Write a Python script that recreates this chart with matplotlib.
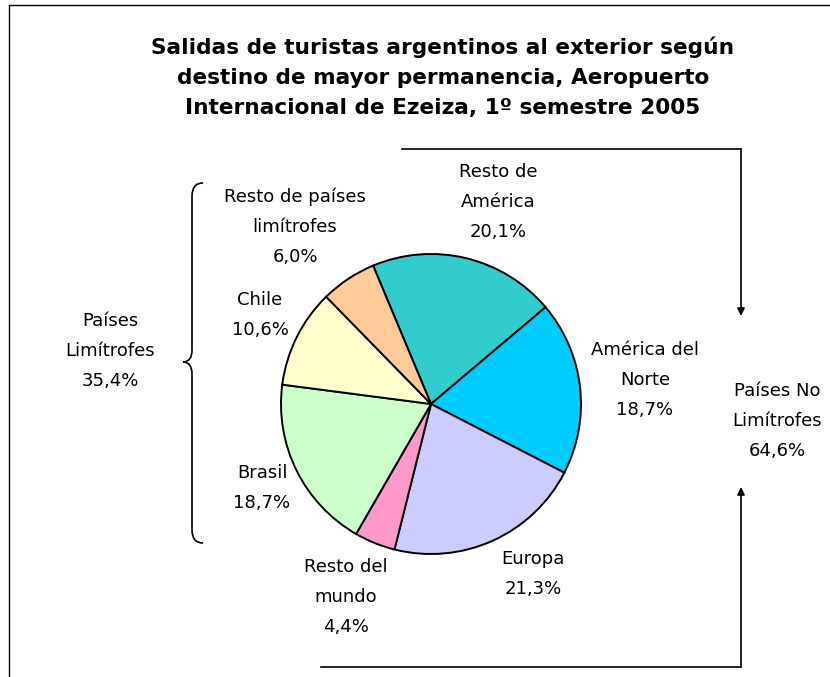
"""
Salidas de turistas argentinos al exterior, Ezeiza, 1º semestre 2005 — pie chart.
"""
import matplotlib
matplotlib.use("Agg")
import matplotlib.pyplot as plt
from matplotlib.path import Path
from matplotlib.patches import PathPatch

plt.rcParams.update({"font.family": ["DejaVu Sans"]})

W, H = 830, 677

# data (clockwise from the top, starting with "Resto de América")
destinos = ["Resto de\nAmérica", "América del\nNorte", "Europa", "Resto del\nmundo",
            "Brasil", "Chile", "Resto de países\nlimítrofes"]
porcentajes = [20.1, 18.7, 21.3, 4.4, 18.7, 10.6, 6.0]
colores = ["#33CCCC", "#00CCFF", "#CCCCFF", "#FF99CC", "#CCFFCC", "#FFFFCC", "#FFCC99"]

grupos = ["Países\nLimítrofes", "Países No\nLimítrofes"]
grupos_pct = [35.4, 64.6]

titulo = ("Salidas de turistas argentinos al exterior según\n"
          "destino de mayor permanencia, Aeropuerto\n"
          "Internacional de Ezeiza, 1º semestre 2005")

# label anchor positions in pixels (x, y from top)
label_pos = [(498, 202), (645, 380), (533, 574), (346, 597),
             (262, 488), (260, 315), (295, 227)]
grupo_pos = [(110, 351), (777, 421)]

fig = plt.figure(figsize=(W / 100, H / 100), dpi=100)

# overlay axes in pixel coordinates
ov = fig.add_axes([0, 0, 1, 1])
ov.set_xlim(0, W)
ov.set_ylim(H, 0)
ov.axis("off")

# pie axes: centre (431, 404), radius 150 px
cx, cy, r = 431, 404, 150
pie_ax = fig.add_axes([(cx - r) / W, 1 - (cy + r) / H, 2 * r / W, 2 * r / H])
pie_ax.pie(porcentajes, colors=colores, startangle=112.7, counterclock=False,
           wedgeprops=dict(edgecolor="black", linewidth=1.4))
pie_ax.set_xlim(-1, 1)
pie_ax.set_ylim(-1, 1)
pie_ax.set_aspect("equal")
pie_ax.axis("off")

# border (left and top edges of the chart area)
ov.plot([9, 9, W + 5], [H + 5, 5, 5], color="black", lw=1.0, clip_on=False)

# title
ov.text(443, 77, titulo, ha="center", va="center", fontsize=15.6, fontweight="bold",
        linespacing=1.62)

fmt = lambda v: f"{v:.1f}%".replace(".", ",")

for name, pct, (x, y) in zip(destinos, porcentajes, label_pos):
    ov.text(x, y, f"{name}\n{fmt(pct)}", ha="center", va="center", fontsize=13,
            linespacing=1.84)

for name, pct, (x, y) in zip(grupos, grupos_pct, grupo_pos):
    ov.text(x, y, f"{name}\n{fmt(pct)}", ha="center", va="center", fontsize=13,
            linespacing=1.84)

# brace for "Países Limítrofes"
verts = [(203, 183), (192, 183), (192, 196),
         (192, 350),
         (192, 362), (183, 362),
         (192, 362), (192, 374),
         (192, 530),
         (192, 543), (203, 543)]
codes = [Path.MOVETO, Path.CURVE3, Path.CURVE3,
         Path.LINETO,
         Path.CURVE3, Path.CURVE3,
         Path.CURVE3, Path.CURVE3,
         Path.LINETO,
         Path.CURVE3, Path.CURVE3]
ov.add_patch(PathPatch(Path(verts, codes), facecolor="none", edgecolor="black", lw=1.2))

# arrows for "Países No Limítrofes"
ov.plot([402, 741], [149, 149], color="black", lw=1.2)
ov.annotate("", xy=(741, 316), xytext=(741, 149),
            arrowprops=dict(arrowstyle="-|>", color="black", lw=1.2,
                            mutation_scale=11, shrinkA=0, shrinkB=0))
ov.plot([321, 741], [667, 667], color="black", lw=1.2)
ov.annotate("", xy=(741, 487), xytext=(741, 667),
            arrowprops=dict(arrowstyle="-|>", color="black", lw=1.2,
                            mutation_scale=11, shrinkA=0, shrinkB=0))

fig.savefig("out.png", dpi=100)
